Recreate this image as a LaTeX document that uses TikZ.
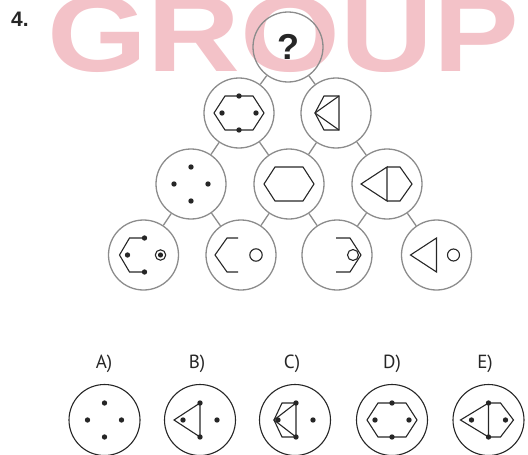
\documentclass[tikz,border=0pt]{standalone}
\usepackage{fontspec}
\setmainfont{PT Sans}
\newfontfamily\wmfont{Liberation Sans}
\usepackage{tikz}
\usetikzlibrary{positioning}
\definecolor{ringgray}{RGB}{140,140,140}
\definecolor{ink}{RGB}{38,38,38}
\definecolor{wmpink}{RGB}{243,194,200}

\begin{document}
\begin{tikzpicture}[x=1pt, y=-1pt,
    ring/.style={circle, draw=ringgray, line width=1.3pt, minimum size=70pt, inner sep=0pt},
    opt/.style={circle, draw=ink, line width=1.1pt, minimum size=71pt, inner sep=0pt},
    link/.style={ringgray, line width=1.3pt},
    fig/.style={ink, line width=1.1pt},
    optlabel/.style={font=\fontsize{19}{19}\selectfont, text=ink}]
  \useasboundingbox (0,0) rectangle (528,455);
  % watermark
  \node[anchor=base west, inner sep=0pt, text=wmpink, xscale=1.19,
        font=\wmfont\bfseries\fontsize{108}{108}\selectfont] (wm) at (47.5,71) {GROUP};
  \node[anchor=base west, inner sep=0pt, text=ink,
        font=\wmfont\bfseries\fontsize{21}{21}\selectfont] (num) at (11,27) {4.};
  % pyramid
  \node[ring, font=\wmfont\bfseries\fontsize{36}{36}\selectfont, text=ink] (top) at (288,47) {?};
  \node[ring] (r2a) at (239,113) {};
  \node[ring] (r2b) at (336,113) {};
  \node[ring] (r3a) at (191,184) {};
  \node[ring] (r3b) at (289,184) {};
  \node[ring] (r3c) at (387,184) {};
  \node[ring] (r4a) at (143.5,255) {};
  \node[ring] (r4b) at (241,255) {};
  \node[ring] (r4c) at (337,255) {};
  \node[ring] (r4d) at (436.5,255) {};
  \draw[link] (top) -- (r2a);
  \draw[link] (top) -- (r2b);
  \draw[link] (r2a) -- (r3a);
  \draw[link] (r2a) -- (r3b);
  \draw[link] (r2b) -- (r3b);
  \draw[link] (r2b) -- (r3c);
  \draw[link] (r3a) -- (r4a);
  \draw[link] (r3a) -- (r4b);
  \draw[link] (r3b) -- (r4b);
  \draw[link] (r3b) -- (r4c);
  \draw[link] (r3c) -- (r4c);
  \draw[link] (r3c) -- (r4d);
  % row 2
  \begin{scope}[shift={(r2a)}]
    \draw[fig] (-25,0) -- (-14,-17) -- (14,-17) -- (25,0) -- (14,17) -- (-14,17) -- cycle;
    \foreach \p in {(0,-17),(0,17),(-17,0),(17,0)} \fill[ink] \p circle[radius=2.7];
  \end{scope}
  \begin{scope}[shift={(r2b)}]
    \draw[fig] (3,-17) -- (-12,-17) -- (-21,0) -- (-12,17) -- (3,17) -- cycle;
    \draw[fig] (3,-17) -- (-21,0) -- (3,17);
  \end{scope}
  % row 3
  \begin{scope}[shift={(r3a)}]
    \foreach \p in {(0,-17),(0,17),(-17,0),(17,0)} \fill[ink] \p circle[radius=2.7];
  \end{scope}
  \begin{scope}[shift={(r3b)}]
    \draw[fig] (-25,0) -- (-14,-17) -- (14,-17) -- (25,0) -- (14,17) -- (-14,17) -- cycle;
  \end{scope}
  \begin{scope}[shift={(r3c)}]
    \draw[fig] (-26,0) -- (0,-17) -- (0,17) -- cycle;
    \draw[fig] (0,-17) -- (13,-17) -- (25,0) -- (13,17) -- (0,17);
  \end{scope}
  % row 4
  \begin{scope}[shift={(r4a)}]
    \draw[fig] (1,-17) -- (-14,-17) -- (-24,0) -- (-14,17) -- (1,17);
    \foreach \p in {(1,-17),(1,17),(-16,0)} \fill[ink] \p circle[radius=2.7];
    \draw[fig] (17,0) circle[radius=5.2];
    \fill[ink] (17,0) circle[radius=2.6];
  \end{scope}
  \begin{scope}[shift={(r4b)}]
    \draw[fig] (-3,-17) -- (-14,-17) -- (-26,0) -- (-14,17) -- (-3,17);
    \draw[fig] (15,0) circle[radius=6.2];
  \end{scope}
  \begin{scope}[shift={(r4c)}]
    \draw[fig] (-1,-17) -- (13,-17) -- (24,0) -- (13,17) -- (-1,17);
    \draw[fig] (16,0) circle[radius=5.5];
  \end{scope}
  \begin{scope}[shift={(r4d)}]
    \draw[fig] (-26,0) -- (0,-17) -- (0,17) -- cycle;
    \draw[fig] (17,0) circle[radius=6];
  \end{scope}
  % answers
  \node[opt] (optA) at (104.5,420) {};
  \node[opt] (optB) at (200,420) {};
  \node[opt] (optC) at (295,420) {};
  \node[opt] (optD) at (392,420) {};
  \node[opt] (optE) at (488.5,420) {};
  \node[optlabel] (labA) at (104,363.5) {A)};
  \node[optlabel] (labB) at (197,363.5) {B)};
  \node[optlabel] (labC) at (292,363.5) {C)};
  \node[optlabel] (labD) at (392,363.5) {D)};
  \node[optlabel] (labE) at (485,363.5) {E)};
  \begin{scope}[shift={(optA)}]
    \foreach \p in {(0,-17),(0,17),(-17,0),(17,0)} \fill[ink] \p circle[radius=2.7];
  \end{scope}
  \begin{scope}[shift={(optB)}]
    \draw[fig] (-26,0) -- (0,-17) -- (0,17) -- cycle;
    \foreach \p in {(0,-17),(0,17),(-17,0),(17,0)} \fill[ink] \p circle[radius=2.7];
  \end{scope}
  \begin{scope}[shift={(optC)}]
    \draw[fig] (1,-17) -- (-13,-17) -- (-21,0) -- (-13,17) -- (1,17) -- cycle;
    \draw[fig] (1,-17) -- (-21,0) -- (1,17);
    \foreach \p in {(1,-17),(1,17),(-17,0),(18,0)} \fill[ink] \p circle[radius=2.7];
  \end{scope}
  \begin{scope}[shift={(optD)}]
    \draw[fig] (-25,0) -- (-14,-17) -- (14,-17) -- (25,0) -- (14,17) -- (-14,17) -- cycle;
    \foreach \p in {(0,-17),(0,17),(-17,0),(17,0)} \fill[ink] \p circle[radius=2.7];
  \end{scope}
  \begin{scope}[shift={(optE)}]
    \draw[fig] (-28,0) -- (0,-17) -- (0,17) -- cycle;
    \draw[fig] (0,-17) -- (12,-17) -- (25,0) -- (12,17) -- (0,17);
    \foreach \p in {(0,-17),(0,17),(-17,0),(17,0)} \fill[ink] \p circle[radius=2.7];
  \end{scope}
\end{tikzpicture}
\end{document}
